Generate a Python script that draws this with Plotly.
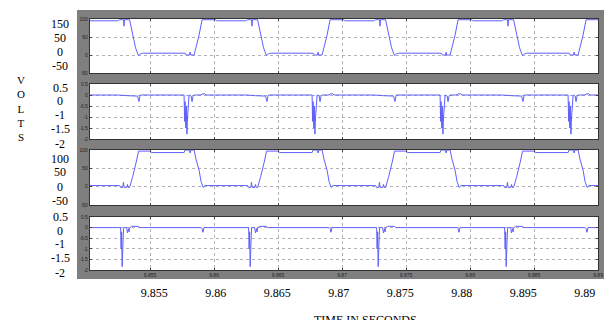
import plotly.graph_objects as go

# ---------------- data ----------------
# start time of each switching cycle (falling edge of trace 1), seconds
CYCLE_START = [9.8434, 9.8534, 9.8634, 9.8734, 9.8834]

# one cycle of each trace: time offset (ms) from the cycle start, value
P1_DT = [-0.93, -0.78, -0.47, -0.43, -0.39, 0.0, 0.23, 0.47, 0.70, 0.85, 1.01,
         4.34, 4.42, 4.69, 4.73, 4.77, 5.04, 5.19, 5.43, 5.66, 6.74, 6.82, 9.07]
P1_V = [95, 98, 98, 80, 98, 98, 60, 20, -2, 3, 5,
        5, 0, 0, 8, 0, 0, 20, 55, 98, 98, 95, 95]

P2_DT = [-0.93, -0.23, -0.16, 0.62, 0.74, 0.81, 0.85, 4.26, 4.30, 4.34, 4.39,
         4.43, 4.48, 4.53, 4.59, 4.65, 4.81, 4.88, 4.96, 5.04, 5.58, 5.66,
         5.89, 5.97, 9.07]
P2_V = [0, 0, -0.03, -0.05, -0.3, -0.05, 0, 0, -1.2, -0.3, -1.5,
        -0.5, -1.78, -1.0, -0.1, 0, -0.05, -0.3, -0.05, 0, 0, 0.05,
        0.05, 0, 0]

P3_DT = [-0.93, -0.78, -0.70, -0.54, -0.47, -0.43, -0.23, -0.16, -0.12, 0.0,
         0.23, 0.39, 0.54, 0.70, 1.63, 1.71, 4.26, 4.34, 4.65, 4.73, 4.81,
         5.04, 5.19, 5.43, 5.58, 5.74, 5.89, 9.07]
P3_V = [3, 3, -2, -2, 12, -2, -2, 6, -2, -2,
        25, 45, 70, 97, 97, 93, 93, 100, 100, 92, 100,
        100, 75, 45, 15, -2, 3, 3]

P4_DT = [-0.93, -0.70, -0.66, -0.62, -0.58, -0.54, -0.50, -0.47, -0.23, -0.16,
         -0.08, -0.04, 0.0, 0.04, 0.16, 0.70, 0.78, 5.58, 5.66, 5.74, 5.81, 9.07]
P4_V = [0, 0, -1.0, -0.2, -1.84, -1.2, -0.1, 0, 0, -0.25,
        -0.05, -0.2, 0, 0, 0.06, 0.06, 0, 0, -0.05, -0.22, 0, 0]

# axes
X_RANGE = [9.8503, 9.8900]
X_TICKS = [9.855, 9.86, 9.865, 9.87, 9.875, 9.88, 9.885, 9.89]
X_TICK_TEXT = ["9.855", "9.86", "9.865", "9.87", "9.875", "9.88", "9.885", "9.89"]
Y_BIG_TICKS = [-50, 0, 50, 100]
Y_SMALL_TICKS = [-2, -1.5, -1, -0.5, 0, 0.5]

# outer (pasted) labels
OUTER_X_TEXT = ["9.855", "9.86", "9.865", "9.87", "9.875", "9.88", "9.895", "9.89"]
OUTER_Y_TEXT = [["150", "50", "0", "-50"],
                ["0.5", "0", "-1", "-1.5", "-2"],
                ["100", "50", "0", "-50"],
                ["0.5", "0", "-1", "-1.5", "-2"]]
Y_LETTERS = ["V", "O", "L", "T", "S"]
X_TITLE = "TIME IN SECONDS"

# ---------------- layout geometry (pixels of the 616x320 picture) ----------------
W, H = 616, 320
L, R, T, B = 77, 609, 10, 279          # grey frame = plotting area


def px_x(px):
    return (px - L) / (R - L)


def px_y(py):
    return (B - py) / (B - T)


PANEL_X = [px_x(90), px_x(603)]
PANEL_Y = [[px_y(73), px_y(19)], [px_y(139), px_y(84)],
           [px_y(205), px_y(150)], [px_y(270), px_y(217)]]
OUTER_Y_POS = [[24, 38, 52, 66], [88, 101, 115, 129, 144],
               [159, 172, 187, 201], [217, 231, 244, 258, 273]]
LETTERS_CENTER_Y = 109

LINE_COLOR = "rgb(95,95,255)"
GRID_COLOR = "rgba(165,165,165,0.85)"
SERIF = "Liberation Serif"


def expand(dts, vals):
    xs, ys = [], []
    for s in CYCLE_START:
        for d, v in zip(dts, vals):
            xs.append(s + d / 1000.0)
            ys.append(v)
    return xs, ys


fig = go.Figure()
series = [(P1_DT, P1_V), (P2_DT, P2_V), (P3_DT, P3_V), (P4_DT, P4_V)]
for i, (dts, vals) in enumerate(series):
    xs, ys = expand(dts, vals)
    sfx = "" if i == 0 else str(i + 1)
    fig.add_trace(go.Scatter(x=xs, y=ys, mode="lines",
                             line=dict(color=LINE_COLOR, width=1),
                             xaxis="x" + sfx, yaxis="y" + sfx,
                             showlegend=False, hoverinfo="skip"))

# dummy trace for the outer time-label axis
fig.add_trace(go.Scatter(x=[None], y=[None], xaxis="x5", yaxis="y5",
                         showlegend=False, hoverinfo="skip"))

layout = dict(width=W, height=H,
              margin=dict(l=L, r=W - R, t=T, b=H - B, pad=0),
              paper_bgcolor="white", plot_bgcolor="rgba(0,0,0,0)",
              showlegend=False)

small_font = dict(family="Liberation Sans", size=5, color="#222")
for i in range(4):
    sfx = "" if i == 0 else str(i + 1)
    big = i in (0, 2)
    layout["xaxis" + sfx] = dict(
        domain=PANEL_X, anchor="y" + sfx, range=X_RANGE,
        tickvals=X_TICKS, ticktext=X_TICK_TEXT,
        showticklabels=(i == 3), tickfont=small_font,
        ticks="inside", ticklen=2, tickcolor="#444",
        showgrid=True, gridcolor=GRID_COLOR, griddash="dot", gridwidth=1,
        showline=True, linecolor="#333", linewidth=1, mirror="ticks",
        zeroline=False)
    layout["yaxis" + sfx] = dict(
        domain=PANEL_Y[i], anchor="x" + sfx,
        range=[-50, 100] if big else [-2, 0.5],
        tickvals=Y_BIG_TICKS if big else Y_SMALL_TICKS,
        ticktext=[str(v) for v in (Y_BIG_TICKS if big else Y_SMALL_TICKS)],
        tickfont=small_font, ticks="inside", ticklen=2, tickcolor="#444",
        showgrid=True, gridcolor=GRID_COLOR, griddash="dot", gridwidth=1,
        showline=True, linecolor="#333", linewidth=1, mirror="ticks",
        zeroline=False)

# outer time labels
layout["xaxis5"] = dict(domain=[0, 1], anchor="y5", range=[9.84871, 9.89156],
                        tickvals=X_TICKS, ticktext=OUTER_X_TEXT,
                        tickfont=dict(family=SERIF, size=12, color="black"),
                        ticks="outside", ticklen=3, tickcolor="rgba(0,0,0,0)",
                        showgrid=False, showline=False, zeroline=False)
layout["yaxis5"] = dict(domain=[0, 1], anchor="x5", range=[0, 1], visible=False)

shapes = [dict(type="rect", xref="paper", yref="paper", x0=0, x1=1, y0=0, y1=1,
               fillcolor="#7f7f7f", line=dict(width=0), layer="below")]
for i in range(4):
    sfx = "" if i == 0 else str(i + 1)
    shapes.append(dict(type="rect", xref="x" + sfx + " domain",
                       yref="y" + sfx + " domain", x0=0, x1=1, y0=0, y1=1,
                       fillcolor="white", line=dict(width=0), layer="below"))
layout["shapes"] = shapes

ann = []
for texts, poss in zip(OUTER_Y_TEXT, OUTER_Y_POS):
    for t, p in zip(texts, poss):
        ann.append(dict(text=t, xref="paper", yref="paper", x=px_x(60), y=px_y(p),
                        xanchor="center", yanchor="middle", showarrow=False,
                        borderpad=0,
                        font=dict(family=SERIF, size=12, color="black")))
ann.append(dict(text="<br>".join(Y_LETTERS), xref="paper", yref="paper",
                x=px_x(20), y=px_y(LETTERS_CENTER_Y), align="center",
                xanchor="center", yanchor="middle", showarrow=False,
                borderpad=0, font=dict(family=SERIF, size=11, color="black")))
ann.append(dict(text=X_TITLE, xref="paper", yref="paper", x=px_x(368), y=px_y(312),
                xanchor="center", yanchor="top", showarrow=False, borderpad=0,
                font=dict(family=SERIF, size=12, color="black")))
layout["annotations"] = ann

fig.update_layout(**layout)
fig.write_html("out.html",
               config={"displayModeBar": False},
               post_script="document.body.style.margin='0';"
                           "document.body.style.overflow='hidden';")
